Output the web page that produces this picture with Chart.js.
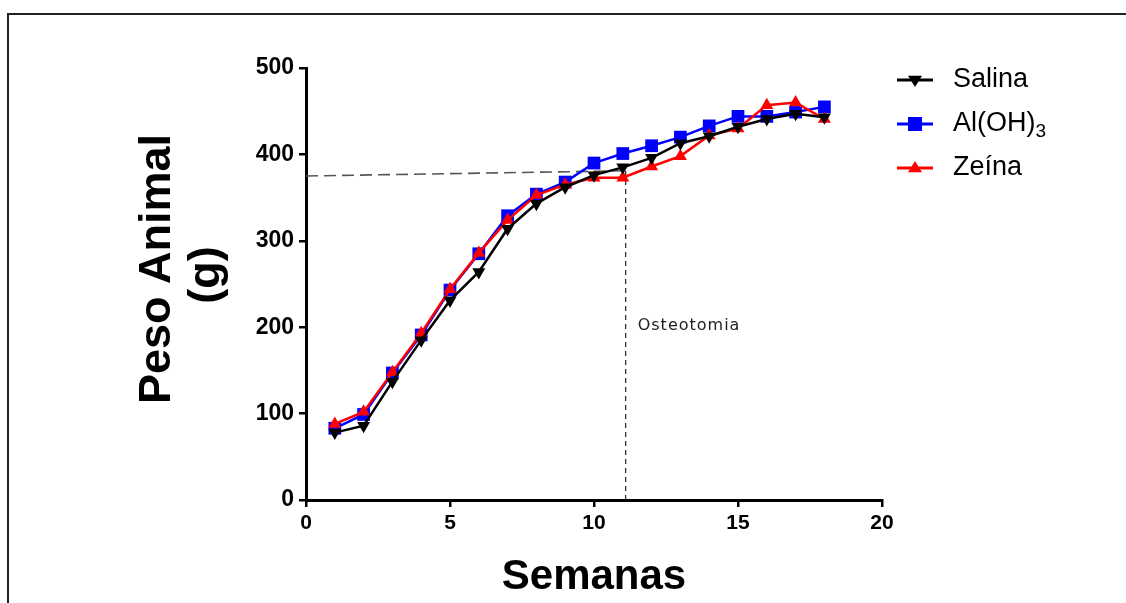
<!DOCTYPE html>
<html>
<head>
<meta charset="utf-8">
<script src="https://cdn.jsdelivr.net/npm/chart.js@4/dist/chart.umd.min.js"></script>
<style>
  html, body { margin: 0; padding: 0; background: #fff; }
  #frame { position: absolute; left: 7px; top: 13px; right: 0; bottom: 0;
           border-left: 2px solid #222; border-top: 2px solid #222; }
  #wrap { position: absolute; left: 0; top: 0; width: 1126px; height: 603px; }
</style>
</head>
<body>
<div id="frame"></div>
<div id="wrap"><canvas id="chart" width="1126" height="603"></canvas></div>
<script>
// Weekly body weight (g)
const weeks = [1, 2, 3, 4, 5, 6, 7, 8, 9, 10, 11, 12, 13, 14, 15, 16, 17, 18];
const salina = [78, 86, 137, 185, 231, 264, 314, 343, 362, 376, 385, 396, 413, 421, 432, 441, 447, 443];
const aloh3  = [83, 99, 147, 191, 243, 285, 329, 354, 368, 390, 401, 410, 420, 433, 444, 444, 449, 455];
const zeina  = [88, 102, 148, 193, 244, 286, 324, 353, 365, 373, 373, 386, 398, 422, 430, 457, 460, 441];

// reference lines: weight at osteotomy and osteotomy week
const refWeightX = [0, 11];
const refWeightY = [375, 381];
const osteoX = [11.1, 11.1];
const osteoY = [0, 381];

const xTicks = [0, 5, 10, 15, 20];
const yTicks = [0, 100, 200, 300, 400, 500];

const FONT = "'Liberation Sans', Arial, sans-serif";

function pts(xs, ys) { return xs.map((x, i) => ({ x: x, y: ys[i] })); }

const legendPlugin = {
  id: 'sideLegend',
  afterDraw(chart) {
    const ctx = chart.ctx;
    const items = chart.data.datasets.filter(d => d.inLegend);
    ctx.save();
    items.forEach((ds, i) => {
      const y = 80 + i * 44;
      ctx.strokeStyle = ds.borderColor;
      ctx.lineWidth = 3;
      ctx.beginPath(); ctx.moveTo(897, y); ctx.lineTo(933, y); ctx.stroke();
      ctx.fillStyle = ds.pointBackgroundColor;
      const r = 7;
      ctx.beginPath();
      if (ds.pointStyle === 'rect') {
        ctx.rect(915 - r, y - r, 2 * r, 2 * r);
      } else if (ds.pointRotation === 180) {
        ctx.moveTo(915 - r, y - r * 0.6); ctx.lineTo(915 + r, y - r * 0.6); ctx.lineTo(915, y + r);
      } else {
        ctx.moveTo(915 - r, y + r * 0.6); ctx.lineTo(915 + r, y + r * 0.6); ctx.lineTo(915, y - r);
      }
      ctx.fill();
      ctx.fillStyle = '#000';
      ctx.textBaseline = 'middle';
      ctx.textAlign = 'left';
      let tx = 953;
      for (const ch of ds.label) {
        if (ch === '\u2083') {
          ctx.font = '19px ' + FONT;
          ctx.fillText('3', tx, y + 8);
          tx += ctx.measureText('3').width;
        } else {
          ctx.font = '27px ' + FONT;
          ctx.fillText(ch, tx, y);
          tx += ctx.measureText(ch).width;
        }
      }
    });

    // axis titles
    ctx.fillStyle = '#000';
    ctx.font = 'bold 42px ' + FONT;
    ctx.textAlign = 'center';
    ctx.textBaseline = 'alphabetic';
    ctx.fillText('Semanas', 594, 589);
    ctx.save();
    ctx.translate(0, 269);
    ctx.rotate(-Math.PI / 2);
    ctx.font = 'bold 45px ' + FONT;
    ctx.fillText('Peso Animal', 0, 170);
    ctx.fillText('(g)', -6, 219);
    ctx.restore();

    // annotation
    const xs = chart.scales.x, ys = chart.scales.y;
    ctx.font = '16px "DejaVu Sans", sans-serif';
    ctx.letterSpacing = '1px';
    ctx.textAlign = 'left';
    ctx.textBaseline = 'middle';
    ctx.fillStyle = '#222';
    ctx.fillText('Osteotomia', xs.getPixelForValue(osteoX[0]) + 12, ys.getPixelForValue(202));
    ctx.restore();
  }
};

new Chart(document.getElementById('chart'), {
  type: 'line',
  data: {
    datasets: [
      {
        label: 'Salina', inLegend: true, order: 1,
        data: pts(weeks, salina),
        borderColor: '#000', backgroundColor: '#000', pointBackgroundColor: '#000',
        borderWidth: 2.5, pointStyle: 'triangle', pointRotation: 180, pointRadius: 7.5, pointBorderWidth: 0
      },
      {
        label: 'Al(OH)\u2083', inLegend: true, order: 3,
        data: pts(weeks, aloh3),
        borderColor: '#0000ff', backgroundColor: '#0000ff', pointBackgroundColor: '#0000ff',
        borderWidth: 2.5, pointStyle: 'rect', pointRadius: 9, pointBorderWidth: 0
      },
      {
        label: 'Zeína', inLegend: true, order: 2,
        data: pts(weeks, zeina),
        borderColor: '#ff0000', backgroundColor: '#ff0000', pointBackgroundColor: '#ff0000',
        borderWidth: 2.5, pointStyle: 'triangle', pointRadius: 7.5, pointBorderWidth: 0
      },
      {
        label: 'ref-weight', order: 10,
        data: pts(refWeightX, refWeightY),
        borderColor: '#555', borderWidth: 1.6, borderDash: [12, 6], pointRadius: 0
      },
      {
        label: 'ref-week', order: 10,
        data: pts(osteoX, osteoY),
        borderColor: '#222', borderWidth: 1.2, borderDash: [5, 4], pointRadius: 0
      }
    ]
  },
  options: {
    responsive: false,
    animation: false,
    events: [],
    layout: { padding: { top: 68, right: 244, bottom: 0, left: 0 } },
    plugins: { legend: { display: false }, tooltip: { enabled: false } },
    scales: {
      x: {
        type: 'linear', min: 0, max: 20,
        afterFit(scale) { scale.height = 103; },
        afterBuildTicks(scale) { scale.ticks = xTicks.map(v => ({ value: v })); },
        grid: { drawOnChartArea: false, drawTicks: true, tickLength: 7, color: '#000', lineWidth: 2.5 },
        border: { display: true, color: '#000', width: 3 },
        ticks: { color: '#000', padding: 4, font: { family: FONT, size: 21, weight: 'bold' } }
      },
      y: {
        type: 'linear', min: 0, max: 500,
        afterFit(scale) { scale.width = 306; },
        afterBuildTicks(scale) { scale.ticks = yTicks.map(v => ({ value: v })); },
        grid: { drawOnChartArea: false, drawTicks: true, tickLength: 7, color: '#000', lineWidth: 2.5 },
        border: { display: true, color: '#000', width: 3 },
        ticks: { color: '#000', padding: 5, font: { family: FONT, size: 23, weight: 'bold' } }
      }
    }
  },
  plugins: [legendPlugin]
});
</script>
</body>
</html>
